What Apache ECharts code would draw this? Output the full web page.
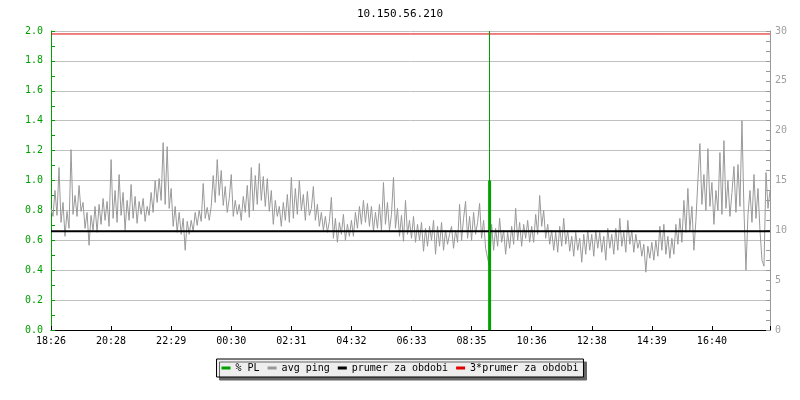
<!DOCTYPE html>
<html>
<head>
<meta charset="utf-8">
<script src="https://cdn.jsdelivr.net/npm/echarts@6/dist/echarts.min.js"></script>
<style>html,body{margin:0;padding:0;background:#fff}#c{width:800px;height:400px}</style>
</head>
<body>
<div id="c"></div>
<script>
// --- data -------------------------------------------------------------
const chartTitle = '10.150.56.210';
const tickLabels = ['18:26','20:28','22:29','00:30','02:31','04:32','06:33','08:35','10:36','12:38','14:39','16:40'];
const tickEvery = 30; // samples between time labels
// avg ping (ms), one sample per ~4 min
const avgPing = [
 12.2,11.4,14.0,11.5,16.3,10.8,12.8,9.4,11.9,10.2,
 18.1,11.6,13.5,11.4,14.5,11.9,12.8,10.2,11.8,8.5,
 11.5,10.0,12.4,9.8,12.6,10.6,13.2,11.0,12.9,10.4,
 17.1,11.2,14.0,10.8,15.6,11.5,13.8,10.0,13.0,11.0,
 14.6,11.2,13.4,10.7,12.9,11.6,13.2,10.9,12.4,11.5,
 13.8,11.8,15.0,12.8,15.2,13.0,18.8,12.6,18.4,12.2,
 14.2,10.4,12.4,9.8,11.8,9.6,11.2,8.0,10.9,9.6,
 11.0,9.9,11.8,10.5,12.0,10.9,14.7,11.2,12.3,11.0,
 12.4,15.5,12.8,17.1,13.5,16.0,12.5,14.4,11.8,13.2,
 15.6,11.4,13.0,11.6,12.6,11.0,13.4,11.8,14.5,11.3,
 16.3,12.0,15.5,12.6,16.7,13.0,15.4,12.4,15.2,11.9,
 14.0,10.6,13.0,11.4,12.4,10.4,12.8,11.0,13.6,10.8,
 15.3,11.2,14.2,11.6,15.0,12.0,13.6,11.0,13.9,11.5,
 12.2,14.4,11.0,12.6,10.4,11.8,10.0,11.4,9.8,10.9,
 13.3,9.2,11.2,8.8,10.8,9.6,11.6,9.0,10.6,9.4,
 11.0,9.4,11.8,10.2,12.4,10.6,13.0,10.8,12.7,10.4,
 12.4,9.9,11.8,10.2,12.6,10.0,14.8,10.6,12.8,10.0,
 11.6,15.3,10.2,12.2,9.4,11.5,8.9,13.0,9.6,11.0,
 9.2,11.4,8.8,10.6,9.0,10.8,7.9,10.2,8.4,10.4,
 9.0,11.0,7.6,10.4,8.4,10.8,8.0,10.0,8.6,9.6,
 10.4,8.2,10.0,8.8,12.6,9.0,11.2,12.9,9.2,11.4,
 9.0,11.8,9.6,10.8,12.7,9.2,11.0,8.2,7.2,6.3,
 10.6,8.0,10.2,8.4,11.2,8.8,10.0,7.6,9.8,8.2,
 10.4,8.6,12.2,9.0,10.8,8.4,10.6,9.2,11.0,8.8,
 10.4,8.8,11.6,9.6,13.5,10.4,12.0,9.2,10.6,8.6,
 10.0,8.0,9.8,7.8,10.4,8.4,11.2,8.6,10.0,7.9,
 9.4,7.4,9.8,8.0,9.2,6.8,9.6,7.6,10.0,8.0,
 9.6,7.4,10.0,8.2,9.8,7.8,9.4,7.0,10.2,8.2,
 9.6,7.6,10.2,8.0,11.2,8.4,9.8,7.8,11.0,8.6,
 10.0,7.8,9.6,8.2,9.0,7.4,8.6,5.8,8.4,7.2,
 8.8,7.0,9.0,7.4,10.4,8.0,10.6,7.6,9.4,7.2,
 9.2,7.6,10.6,8.6,11.2,8.8,13.0,9.8,14.2,10.0,
 12.4,8.0,11.0,15.0,18.7,12.6,15.6,12.0,18.2,12.4,
 14.8,10.6,14.0,12.0,17.8,11.6,19.0,12.2,15.0,11.4,
 13.8,16.4,11.8,16.6,12.4,21.0,12.0,6.0,11.6,14.0,
 10.8,15.6,11.2,14.2,10.0,7.0,6.4,15.8,12.2,14.0
];
// % PL: non-zero samples [sample index, value]
const plLoss = [[219, 1.0]];
const meanPing = 9.9;      // prumer za obdobi (ms)
const meanPing3 = 29.7;    // 3*prumer za obdobi (ms)

// --- chart ------------------------------------------------------------
const MONO = '"DejaVu Sans Mono", "Liberation Mono", monospace';
const GREEN = '#00a000';
const last = avgPing.length - 1;
const chart = echarts.init(document.getElementById('c'), null, {renderer: 'canvas'});
chart.setOption({
  animation: false,
  title: {text: chartTitle, left: 'center', top: 4,
    textStyle: {fontFamily: MONO, fontSize: 11, fontWeight: 'normal', color: '#000'}},
  grid: {left: 51, right: 30, top: 31, bottom: 70, containLabel: false},
  legend: {
    top: 359, left: 'center', orient: 'horizontal',
    data: ['% PL', 'avg ping', 'prumer za obdobi', '3*prumer za obdobi'],
    icon: 'rect', itemWidth: 9, itemHeight: 3, itemGap: 8, padding: [4, 5],
    backgroundColor: '#eeeeee', borderColor: '#000', borderWidth: 1,
    shadowColor: '#666', shadowOffsetX: 3, shadowOffsetY: 3, shadowBlur: 0,
    textStyle: {fontFamily: MONO, fontSize: 10, color: '#000'}
  },
  xAxis: {
    type: 'value', min: 0, max: last, interval: tickEvery,
    axisLine: {lineStyle: {color: '#000', width: 1}},
    axisTick: {inside: true, length: 4, lineStyle: {color: '#000'}},
    splitLine: {show: false},
    axisLabel: {fontFamily: MONO, fontSize: 10, color: '#000', margin: 6,
      formatter: v => (v % tickEvery === 0 && tickLabels[v / tickEvery]) ? tickLabels[v / tickEvery] : ''}
  },
  yAxis: [
    {
      type: 'value', min: 0, max: 2, interval: 0.2, position: 'left',
      axisLine: {show: true, lineStyle: {color: GREEN, width: 1}},
      axisTick: {show: true, inside: true, length: 4, lineStyle: {color: GREEN}},
      minorTick: {show: true, splitNumber: 2, length: 4, lineStyle: {color: GREEN}},
      splitLine: {show: true, lineStyle: {color: '#c0c0c0', width: 1}},
      axisLabel: {fontFamily: MONO, fontSize: 10, color: GREEN, margin: 8,
        formatter: v => v.toFixed(1)}
    },
    {
      type: 'value', min: 0, max: 30, interval: 5, position: 'right',
      axisLine: {show: true, lineStyle: {color: '#999', width: 1}},
      axisTick: {show: true, inside: true, length: 4, lineStyle: {color: '#999'}},
      minorTick: {show: true, splitNumber: 5, length: 4, lineStyle: {color: '#999'}},
      splitLine: {show: false},
      axisLabel: {fontFamily: MONO, fontSize: 10, color: '#a0a0a0', margin: 5}
    }
  ],
  series: [
    {
      name: 'avg ping', type: 'line', yAxisIndex: 1, z: 2,
      data: avgPing.map((v, i) => [i, v]),
      showSymbol: false, symbol: 'none', color: '#999',
      lineStyle: {color: '#999', width: 1}
    },
    {
      name: '% PL', type: 'bar', yAxisIndex: 0, z: 3, barWidth: 3,
      data: plLoss, color: GREEN, itemStyle: {color: GREEN},
      markLine: {
        silent: true, symbol: 'none', label: {show: false},
        lineStyle: {color: GREEN, width: 1, type: 'solid'},
        data: plLoss.map(p => ({xAxis: p[0]}))
      }
    },
    {
      name: 'prumer za obdobi', type: 'line', yAxisIndex: 1, z: 4,
      data: [[0, meanPing], [last, meanPing]],
      showSymbol: false, symbol: 'none', color: '#000',
      lineStyle: {color: '#000', width: 2}
    },
    {
      name: '3*prumer za obdobi', type: 'line', yAxisIndex: 1, z: 4,
      data: [[0, meanPing3], [last, meanPing3]],
      showSymbol: false, symbol: 'none', color: '#e00000',
      lineStyle: {color: '#e00000', width: 1}
    }
  ]
});
</script>
</body>
</html>
